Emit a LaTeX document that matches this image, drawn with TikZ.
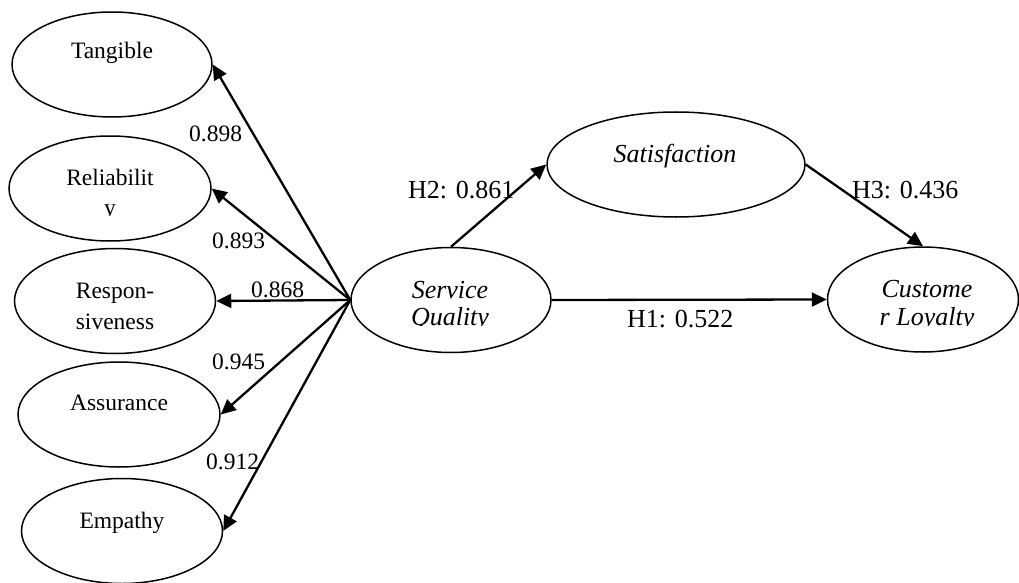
\documentclass[tikz,border=0pt]{standalone}
\usepackage{fontspec}
\setmainfont{Liberation Serif}
\usepackage{tikz}
\usetikzlibrary{shapes.geometric, arrows.meta}

\tikzset{
    latent/.style = {ellipse, draw, line width = 1.5pt, inner sep = 0pt, minimum height = 105pt},
    link/.style = {line width = 2.3pt, -{Triangle[length = 15pt, width = 14pt]}},
    txt/.style = {font = \fontsize{23.5}{29}\selectfont, inner sep = 0pt, anchor = base},
    bigtxt/.style = {txt, font = \fontsize{26}{31}\selectfont\itshape},
    coef/.style = {font = \fontsize{23.5}{29}\selectfont, inner sep = 0pt, anchor = base west},
    hyp/.style = {coef, font = \fontsize{26}{31}\selectfont}
}

\begin{document}
\begin{tikzpicture}[x = 1pt, y = -1pt]
            \useasboundingbox (0, 0) rectangle (1019, 583);
            % constructs
            \node (tang) at (112, 64.5) [latent, minimum width = 200pt] {};
            \node (reli) at (110, 188.5) [latent, minimum width = 202pt] {};
            \node (resp) at (115, 301) [latent, minimum width = 201pt] {};
            \node (assu) at (119, 414.5) [latent, minimum width = 202pt] {};
            \node (empa) at (122, 531) [latent, minimum width = 201pt] {};
            \node (sq) at (451, 300) [latent, minimum width = 200pt] {};
            \node (sat) at (676, 164.5) [latent, minimum width = 258pt] {};
            \node (cl) at (923, 299.5) [latent, minimum width = 191pt] {};
            % texts
            \node (tangT) at (112, 59) [txt] {Tangible};
            \node (reliT) at (110, 185) [txt] {Reliabilit};
            \begin{scope}
                \clip (60, 190) rectangle (160, 215);
                \node (reliT2) at (110, 215) [txt] {y};
            \end{scope}
            \node (respT) at (115, 298) [txt] {Respon-};
            \node (respT2) at (115, 329) [txt] {siveness};
            \node (assuT) at (119, 410) [txt] {Assurance};
            \node (empaT) at (122, 528) [txt] {Empathy};
            \node (sqT) at (450, 298) [bigtxt] {Service};
            \node (satT) at (675, 162) [bigtxt] {Satisfaction};
            \node (clT) at (927, 297) [bigtxt] {Custome};
            \begin{scope}
                \clip (380, 303) rectangle (1019, 325.5);
                \node (sqT2) at (450, 325.5) [bigtxt] {Quality};
                \node (clT2) at (927, 325.5) [bigtxt] {r Loyalty};
            \end{scope}
            % paths
            \draw [link] (sq.west) -- (tang.east);
            \draw [link] (sq.west) -- (reli.east);
            \draw [link] (sq.west) -- (resp.east);
            \draw [link] (sq.west) -- (assu.east);
            \draw [link] (sq.west) -- (empa.east);
            \draw [link] (sq.north) -- (sat.west);
            \draw [link] (sq.east) -- (cl.west);
            \draw [link] (sat.east) -- (cl.north);
            % coefficients
            \node (c1) at (189, 142) [coef] {0.898};
            \node (c2) at (212, 248) [coef] {0.893};
            \node (c3) at (251, 297) [coef] {0.868};
            \node (c4) at (212, 369) [coef] {0.945};
            \node (c5) at (206, 469) [coef] {0.912};
            \node (h2) at (408, 198) [hyp] {H2: 0.861};
            \node (h1) at (627, 327) [hyp] {H1: 0.522};
            \node (h3) at (852, 198) [hyp] {H3: 0.436};
        \end{tikzpicture}
\end{document}
